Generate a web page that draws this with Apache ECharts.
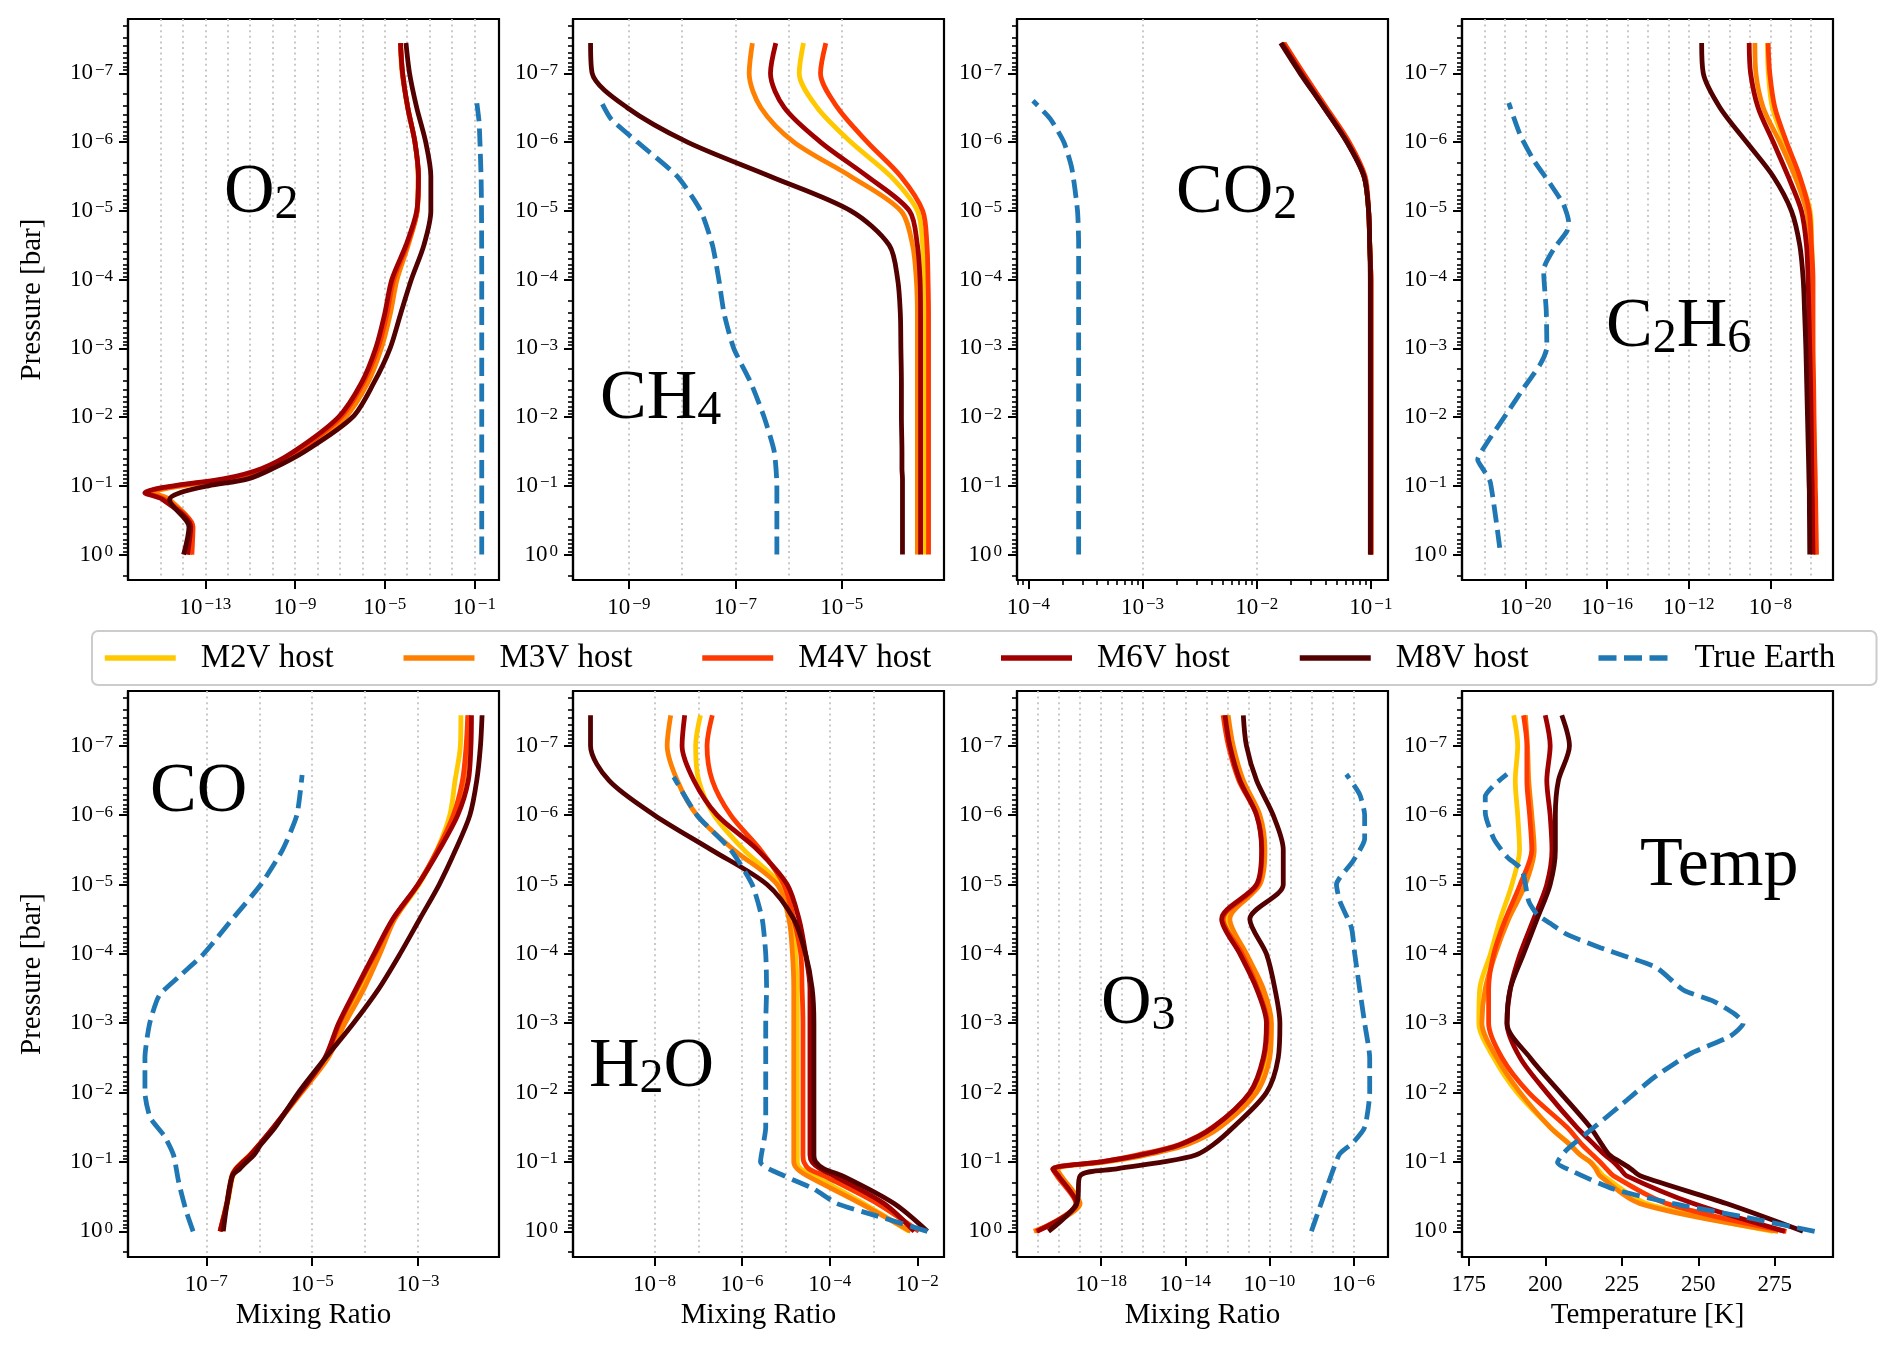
<!DOCTYPE html>
<html>
<head>
<meta charset="utf-8">
<script src="https://cdn.jsdelivr.net/npm/echarts@6/dist/echarts.min.js"></script>
<style>
  html, body { margin: 0; padding: 0; background: #fff; }
  #chart { width: 1894px; height: 1349px; }
</style>
</head>
<body>
<div id="chart"></div>
<script>
// ---- data (mixing ratios stored as log10 values, pressure as log10 bar) ----
const hostNames = ['M2V host', 'M3V host', 'M4V host', 'M6V host', 'M8V host'];
const earthName = 'True Earth';

// pressure levels of the host profiles, from 1 bar up to the top
const logP = [0, -0.4, -0.8, -0.9, -1, -1.1, -1.25, -1.5, -2, -2.5, -3, -3.5, -4, -4.5, -5, -5.5, -6, -6.5, -7, -7.44];

// O2, rows: M2V, M3V, M4V, M6V, M8V
const o2Hosts = [
  [-13.7, -13.6, -14.7, -15.4, -14.1, -11.9, -10.2, -8.8, -6.85, -5.85, -5.25, -4.85, -4.55, -4.0, -3.55, -3.5, -3.65, -3.97, -4.2, -4.3],
  [-13.7, -13.6, -14.6, -15.3, -14.0, -11.8, -10.1, -8.7, -6.75, -5.75, -5.15, -4.75, -4.45, -3.95, -3.55, -3.5, -3.65, -3.97, -4.22, -4.3],
  [-13.6, -13.55, -14.8, -15.6, -14.3, -12.0, -10.3, -8.9, -6.95, -5.95, -5.3, -4.9, -4.6, -4.0, -3.55, -3.5, -3.65, -3.97, -4.2, -4.3],
  [-13.8, -13.65, -14.9, -15.7, -14.4, -12.2, -10.5, -9.05, -7.06, -6.03, -5.4, -5.0, -4.68, -4.05, -3.57, -3.49, -3.65, -3.97, -4.2, -4.29],
  [-13.97, -13.73, -14.6, -14.13, -12.86, -11.1, -10.0, -8.57, -6.43, -5.48, -4.76, -4.29, -3.81, -3.25, -2.94, -2.94, -3.17, -3.57, -3.89, -4.05]
];
const o2EarthP = [0, -1, -2, -3, -4, -5, -5.5, -6, -6.3, -6.6];
const o2Earth = [-0.67, -0.67, -0.67, -0.67, -0.67, -0.68, -0.70, -0.75, -0.79, -0.90];

// CH4
const ch4Hosts = [
  [-3.44, -3.44, -3.44, -3.44, -3.44, -3.44, -3.44, -3.44, -3.44, -3.44, -3.44, -3.44, -3.45, -3.48, -3.58, -4.08, -4.83, -5.46, -5.8, -5.72],
  [-3.58, -3.58, -3.58, -3.58, -3.58, -3.58, -3.58, -3.58, -3.58, -3.58, -3.58, -3.58, -3.6, -3.67, -3.89, -4.83, -5.9, -6.52, -6.74, -6.68],
  [-3.37, -3.37, -3.37, -3.37, -3.37, -3.37, -3.37, -3.37, -3.37, -3.37, -3.37, -3.37, -3.38, -3.4, -3.48, -3.89, -4.52, -5.08, -5.4, -5.3],
  [-3.52, -3.52, -3.52, -3.52, -3.52, -3.52, -3.52, -3.52, -3.52, -3.52, -3.52, -3.52, -3.53, -3.58, -3.73, -4.52, -5.4, -6.08, -6.34, -6.24],
  [-3.86, -3.86, -3.86, -3.86, -3.86, -3.86, -3.87, -3.87, -3.88, -3.88, -3.89, -3.9, -3.95, -4.11, -4.83, -6.34, -7.9, -9.03, -9.69, -9.72]
];
const ch4EarthP = [0, -1, -1.5, -2, -2.5, -3, -3.5, -4, -4.5, -5, -5.5, -6, -6.34, -6.6];
const ch4Earth = [-6.22, -6.22, -6.27, -6.46, -6.71, -7.03, -7.21, -7.31, -7.43, -7.65, -8.09, -8.84, -9.34, -9.53];

// CO2
const co2Hosts = [
  [-1.0, -1.0, -1.0, -1.0, -1.0, -1.0, -1.0, -1.0, -1.0, -1.0, -1.0, -1.0, -1.0, -1.01, -1.02, -1.06, -1.2, -1.4, -1.6, -1.77],
  [-1.0, -1.0, -1.0, -1.0, -1.0, -1.0, -1.0, -1.0, -1.0, -1.0, -1.0, -1.0, -1.0, -1.01, -1.02, -1.06, -1.2, -1.4, -1.6, -1.77],
  [-1.0, -1.0, -1.0, -1.0, -1.0, -1.0, -1.0, -1.0, -1.0, -1.0, -1.0, -1.0, -1.0, -1.01, -1.02, -1.05, -1.19, -1.39, -1.59, -1.76],
  [-1.0, -1.0, -1.0, -1.0, -1.0, -1.0, -1.0, -1.0, -1.0, -1.0, -1.0, -1.0, -1.0, -1.01, -1.02, -1.06, -1.21, -1.41, -1.61, -1.78],
  [-1.005, -1.005, -1.005, -1.005, -1.005, -1.005, -1.005, -1.005, -1.005, -1.005, -1.005, -1.005, -1.005, -1.01, -1.02, -1.06, -1.21, -1.41, -1.62, -1.79]
];
const co2EarthP = [0, -1, -2, -3, -4, -4.5, -5, -5.62, -6, -6.34, -6.6];
const co2Earth = [-3.56, -3.56, -3.56, -3.56, -3.56, -3.56, -3.57, -3.62, -3.69, -3.81, -3.96];

// C2H6
const c2h6Hosts = [
  [-5.76, -5.78, -5.8, -5.81, -5.82, -5.82, -5.83, -5.85, -5.88, -5.9, -5.92, -5.93, -5.93, -5.97, -6.05, -6.6, -7.3, -7.9, -8.1, -8.15],
  [-5.82, -5.84, -5.86, -5.87, -5.88, -5.88, -5.89, -5.91, -5.93, -5.96, -5.99, -5.99, -5.99, -6.07, -6.23, -6.8, -7.54, -8.35, -8.71, -8.76],
  [-5.74, -5.76, -5.78, -5.79, -5.8, -5.8, -5.81, -5.83, -5.86, -5.88, -5.91, -5.91, -5.91, -5.99, -6.1, -6.56, -7.21, -7.78, -8.03, -8.11],
  [-5.91, -5.93, -5.94, -5.95, -5.95, -5.96, -5.97, -5.98, -6.0, -6.03, -6.07, -6.11, -6.15, -6.23, -6.48, -7.13, -7.86, -8.6, -8.97, -9.04],
  [-6.07, -6.08, -6.09, -6.09, -6.1, -6.11, -6.12, -6.14, -6.18, -6.22, -6.26, -6.32, -6.39, -6.56, -6.97, -7.86, -9.17, -10.47, -11.29, -11.37]
];
const c2h6EarthP = [-0.1, -1.05, -1.23, -1.38, -1.59, -2.06, -2.42, -2.77, -3.01, -3.55, -3.96, -4.14, -4.44, -4.7, -4.85, -5.09, -5.39, -5.74, -6.1, -6.57];
const c2h6Earth = [-21.27, -21.73, -22.06, -22.35, -21.97, -20.91, -20.1, -19.28, -18.96, -18.99, -19.09, -19.12, -18.63, -17.98, -17.9, -18.14, -18.79, -19.61, -20.26, -20.83];

// CO
const coHosts = [
  [-6.72, -6.6, -6.5, -6.43, -6.3, -6.16, -5.99, -5.72, -5.22, -4.73, -4.45, -4.1, -3.78, -3.45, -2.98, -2.64, -2.4, -2.3, -2.2, -2.19],
  [-6.74, -6.62, -6.52, -6.45, -6.32, -6.18, -6.0, -5.72, -5.2, -4.7, -4.38, -4.02, -3.72, -3.44, -3.0, -2.63, -2.33, -2.14, -2.08, -2.05],
  [-6.74, -6.61, -6.51, -6.44, -6.31, -6.17, -6.0, -5.73, -5.23, -4.75, -4.48, -4.15, -3.81, -3.47, -3.0, -2.63, -2.33, -2.16, -2.09, -2.06],
  [-6.74, -6.61, -6.51, -6.44, -6.31, -6.17, -6.0, -5.73, -5.23, -4.76, -4.5, -4.17, -3.83, -3.48, -3.0, -2.6, -2.25, -2.05, -2.0, -1.99],
  [-6.68, -6.61, -6.51, -6.37, -6.24, -6.1, -5.97, -5.7, -5.26, -4.75, -4.22, -3.74, -3.34, -2.97, -2.6, -2.29, -2.02, -1.89, -1.82, -1.79]
];
const coEarthP = [0, -0.29, -0.7, -1.1, -1.37, -1.64, -2, -2.5, -3, -3.4, -3.67, -4, -4.5, -5, -5.5, -6, -6.58];
const coEarth = [-7.25, -7.38, -7.52, -7.62, -7.79, -8.06, -8.16, -8.16, -8.07, -7.89, -7.52, -7.05, -6.51, -5.97, -5.56, -5.29, -5.19];

// H2O
const h2oHosts = [
  [-2.19, -3.22, -4.36, -4.66, -4.74, -4.74, -4.74, -4.74, -4.74, -4.74, -4.74, -4.74, -4.78, -4.82, -5.12, -5.96, -6.64, -6.99, -7.06, -6.95],
  [-2.15, -3.29, -4.51, -4.74, -4.82, -4.82, -4.82, -4.82, -4.82, -4.82, -4.82, -4.82, -4.85, -4.93, -5.2, -6.19, -7.03, -7.48, -7.71, -7.63],
  [-1.96, -2.91, -4.13, -4.47, -4.59, -4.61, -4.61, -4.61, -4.61, -4.61, -4.61, -4.63, -4.66, -4.82, -5.05, -5.58, -6.26, -6.68, -6.8, -6.68],
  [-2.07, -2.76, -3.9, -4.21, -4.4, -4.45, -4.45, -4.45, -4.45, -4.45, -4.45, -4.45, -4.55, -4.7, -4.97, -5.65, -6.57, -7.1, -7.37, -7.31],
  [-1.77, -2.53, -3.71, -4.13, -4.32, -4.36, -4.36, -4.36, -4.36, -4.36, -4.36, -4.4, -4.55, -4.82, -5.43, -6.7, -8.0, -9.04, -9.46, -9.46]
];
const h2oEarthP = [0, -0.22, -0.4, -0.61, -0.8, -1, -1.5, -2, -2.5, -3, -3.5, -4, -4.5, -5, -5.5, -6, -6.55];
const h2oEarth = [-1.77, -2.91, -3.83, -4.36, -5.04, -5.58, -5.46, -5.46, -5.46, -5.46, -5.44, -5.46, -5.54, -5.77, -6.26, -7.03, -7.56];

// O3
const o3Hosts = [
  [-21.1, -19.1, -20.0, -20.2, -17.9, -16.0, -14.1, -12.5, -10.75, -10.1, -10.0, -10.45, -11.25, -12.1, -10.5, -10.3, -10.55, -11.35, -11.85, -12.05],
  [-21.2, -19.0, -19.9, -20.1, -17.8, -15.9, -13.93, -12.35, -10.61, -9.98, -9.9, -10.29, -11.09, -11.88, -10.45, -10.21, -10.45, -11.24, -11.72, -11.96],
  [-21.1, -19.2, -20.1, -20.3, -18.0, -16.3, -14.3, -12.7, -10.9, -10.25, -10.1, -10.55, -11.3, -12.2, -10.55, -10.35, -10.6, -11.45, -11.95, -12.2],
  [-21.05, -19.16, -20.03, -20.3, -18.05, -16.15, -14.25, -12.67, -10.93, -10.29, -10.14, -10.61, -11.4, -12.27, -10.61, -10.37, -10.61, -11.4, -11.88, -12.11],
  [-20.5, -19.16, -19.0, -17.26, -15.04, -13.5, -12.67, -11.72, -10.14, -9.58, -9.5, -9.74, -10.14, -10.93, -9.34, -9.34, -9.82, -10.61, -11.09, -11.24]
];
const o3EarthP = [0, -0.35, -0.86, -1.12, -1.28, -1.5, -2, -2.5, -3, -3.5, -4, -4.38, -4.76, -5, -5.34, -5.66, -6, -6.3, -6.59];
const o3Earth = [-8.0, -7.6, -7.0, -6.65, -6.02, -5.47, -5.23, -5.23, -5.47, -5.71, -5.94, -6.1, -6.65, -6.81, -6.02, -5.47, -5.47, -5.71, -6.34];

// Temperature [K]
const tempHosts = [
  [274.5, 233.2, 219.0, 217.0, 214.7, 211.5, 208.2, 201.6, 190.8, 183.2, 178.3, 178.6, 182.1, 185.3, 189.1, 191.6, 191.0, 190.2, 191.0, 189.7],
  [276.1, 231.0, 217.9, 216.5, 214.7, 211.5, 208.0, 201.6, 191.8, 184.2, 179.3, 180.4, 183.7, 188.0, 193.5, 196.4, 195.6, 194.6, 194.2, 193.5],
  [278.8, 239.7, 222.3, 220.0, 217.9, 215.5, 212.0, 207.1, 194.6, 185.9, 181.5, 181.5, 183.2, 187.0, 191.8, 195.6, 194.9, 194.0, 194.0, 192.9],
  [278.3, 248.4, 226.6, 224.5, 222.3, 219.5, 216.0, 210.3, 200.5, 191.8, 187.5, 188.6, 191.8, 196.2, 200.5, 202.2, 201.6, 200.5, 201.6, 200.0],
  [284.2, 259.2, 231.0, 228.0, 224.5, 221.0, 218.5, 214.7, 204.9, 195.1, 187.5, 188.6, 192.9, 197.3, 201.6, 203.3, 203.3, 204.3, 207.9, 205.4]
];
const tempEarthP = [0, -0.22, -0.4, -0.61, -0.86, -0.99, -1.18, -1.53, -1.89, -2.21, -2.56, -2.81, -3.0, -3.13, -3.32, -3.48, -3.8, -3.96, -4.09, -4.28, -4.44, -4.57, -4.76, -5.21, -5.4, -5.66, -6.04, -6.27, -6.43, -6.59];
const tempEarth = [288.0, 263.6, 241.8, 222.3, 209.2, 204.0, 207.1, 216.8, 226.6, 235.3, 247.3, 260.3, 264.7, 262.0, 254.9, 245.1, 236.4, 226.6, 218.0, 207.1, 201.6, 197.3, 194.6, 192.4, 187.5, 183.2, 180.4, 180.4, 183.2, 187.5];

// x tick labels (log10 of mixing ratio / kelvin)
const o2Ticks = [-13, -9, -5, -1];
const ch4Ticks = [-9, -7, -5];
const co2Ticks = [-4, -3, -2, -1];
const c2h6Ticks = [-20, -16, -12, -8];
const coTicks = [-7, -5, -3];
const h2oTicks = [-8, -6, -4, -2];
const o3Ticks = [-18, -14, -10, -6];
const tempTicks = [175, 200, 225, 250, 275];
const pressureTicks = [-7, -6, -5, -4, -3, -2, -1, 0];

// ---- styling / layout ----
const FONT = 'Liberation Serif';
const hostColors = ['#ffc800', '#ff8000', '#ff3a00', '#a00000', '#520000'];
const earthColor = '#1f77b4';
const colLeft = [128, 573, 1017, 1462];
const rowTop = [19, 691];
const rowH = [561, 566];
const panelW = 371;
const yMinLog = -7.79, yMaxLog = 0.37;
const LW = 4.8;

const panels = [
  { hosts: o2Hosts, eP: o2EarthP, e: o2Earth, xr: [-16.45, 0.1], ticks: o2Ticks, yName: true },
  { hosts: ch4Hosts, eP: ch4EarthP, e: ch4Earth, xr: [-10.05, -3.08], ticks: ch4Ticks },
  { hosts: co2Hosts, eP: co2EarthP, e: co2Earth, xr: [-4.1, -0.85], ticks: co2Ticks, minor: true },
  { hosts: c2h6Hosts, eP: c2h6EarthP, e: c2h6Earth, xr: [-23.12, -4.93], ticks: c2h6Ticks },
  { hosts: coHosts, eP: coEarthP, e: coEarth, xr: [-8.48, -1.47], ticks: coTicks, yName: true, xName: 'Mixing Ratio' },
  { hosts: h2oHosts, eP: h2oEarthP, e: h2oEarth, xr: [-9.86, -1.39], ticks: h2oTicks, xName: 'Mixing Ratio' },
  { hosts: o3Hosts, eP: o3EarthP, e: o3Earth, xr: [-22.0, -4.36], ticks: o3Ticks, xName: 'Mixing Ratio' },
  { hosts: tempHosts, eP: tempEarthP, e: tempEarth, xr: [172.8, 294.0], ticks: tempTicks, linear: true, xName: 'Temperature [K]' }
];

const speciesLabels = [
  { text: '{m|O}{s|2}', x: 224, y: 194 },
  { text: '{m|CH}{s|4}', x: 600, y: 400 },
  { text: '{m|CO}{s|2}', x: 1176, y: 194 },
  { text: '{m|C}{s|2}{m|H}{s|6}', x: 1606, y: 328 },
  { text: '{m|CO}', x: 150, y: 793 },
  { text: '{m|H}{s|2}{m|O}', x: 589, y: 1068 },
  { text: '{m|O}{s|3}', x: 1101, y: 1005 },
  { text: '{m|Temp}', x: 1640, y: 867 }
];

const pow10 = v => Math.pow(10, v);
function powLabel(v) {
  const k = Math.round(Math.log10(v));
  return '{b|10}{e|' + (k < 0 ? '\u2212' + (-k) : String(k)) + '}';
}
const tickRich = {
  b: { fontFamily: FONT, fontSize: 23, lineHeight: 23, verticalAlign: 'bottom', color: '#000' },
  e: { fontFamily: FONT, fontSize: 17, lineHeight: 11, verticalAlign: 'top', color: '#000', padding: [0, 0, 0, 2] }
};
function decades(lo, hi) {
  const out = [];
  for (let k = Math.ceil(lo); k <= Math.floor(hi); k++) out.push(pow10(k));
  return out;
}
function minors(lo, hi) {
  const out = [];
  for (let k = Math.floor(lo); k <= Math.ceil(hi); k++) {
    for (let m = 2; m <= 9; m++) {
      const v = m * pow10(k);
      if (Math.log10(v) > lo && Math.log10(v) < hi) out.push(v);
    }
  }
  return out;
}

const option = {
  animation: false,
  backgroundColor: '#ffffff',
  grid: [], xAxis: [], yAxis: [], series: [], graphic: []
};

panels.forEach((pn, i) => {
  const row = Math.floor(i / 4), col = i % 4;
  option.grid.push({
    left: colLeft[col], top: rowTop[row], width: panelW, height: rowH[row],
    show: true, borderColor: '#000', borderWidth: 2.2, backgroundColor: 'transparent'
  });
  const xType = pn.linear ? 'value' : 'log';
  const xMin = pn.linear ? pn.xr[0] : pow10(pn.xr[0]);
  const xMax = pn.linear ? pn.xr[1] : pow10(pn.xr[1]);
  const xTickVals = pn.linear ? pn.ticks : pn.ticks.map(pow10);
  const base = { gridIndex: i, type: xType, min: xMin, max: xMax, position: 'bottom' };
  if (!pn.linear) base.logBase = 10;

  // x axis carrying the data and the dotted decade grid
  const xData = option.xAxis.length;
  option.xAxis.push(Object.assign({}, base, {
    axisLine: { show: false },
    axisTick: { show: false, customValues: pn.linear ? pn.ticks : decades(pn.xr[0], pn.xr[1]) },
    axisLabel: { show: false },
    splitLine: { show: !pn.linear, showMinLine: false, showMaxLine: false,
      lineStyle: { color: '#c4c4c4', width: 1.8, type: [2, 3.6] } }
  }));
  // x axis with labelled ticks
  option.xAxis.push(Object.assign({}, base, {
    axisLine: { show: true, onZero: false, lineStyle: { color: '#000', width: 2.2 } },
    axisTick: { show: true, customValues: xTickVals, length: 9, lineStyle: { color: '#000', width: 2 } },
    axisLabel: {
      customValues: xTickVals, margin: 16, color: '#000', rich: tickRich,
      formatter: pn.linear ? (v => '{b|' + v + '}') : powLabel
    },
    splitLine: { show: false },
    name: pn.xName || '', nameLocation: 'middle', nameGap: 44,
    nameTextStyle: { fontFamily: FONT, fontSize: 29, color: '#000' }
  }));
  if (pn.minor) {
    option.xAxis.push(Object.assign({}, base, {
      axisLine: { show: false },
      axisTick: { show: true, customValues: minors(pn.xr[0], pn.xr[1]), length: 5, lineStyle: { color: '#000', width: 1.6 } },
      axisLabel: { show: false }, splitLine: { show: false }
    }));
  }

  const yBase = { gridIndex: i, type: 'log', logBase: 10, inverse: true,
    min: pow10(yMinLog), max: pow10(yMaxLog), position: 'left' };
  const yData = option.yAxis.length;
  option.yAxis.push(Object.assign({}, yBase, {
    axisLine: { show: true, onZero: false, lineStyle: { color: '#000', width: 2.2 } },
    axisTick: { show: true, customValues: pressureTicks.map(pow10), length: 9, lineStyle: { color: '#000', width: 2 } },
    axisLabel: { customValues: pressureTicks.map(pow10), margin: 15, color: '#000', rich: tickRich, formatter: powLabel },
    splitLine: { show: false },
    name: pn.yName ? 'Pressure [bar]' : '', nameLocation: 'middle', nameGap: 81,
    nameTextStyle: { fontFamily: FONT, fontSize: 29, color: '#000' }
  }));
  option.yAxis.push(Object.assign({}, yBase, {
    axisLine: { show: false },
    axisTick: { show: true, customValues: minors(yMinLog, yMaxLog), length: 5, lineStyle: { color: '#000', width: 1.6 } },
    axisLabel: { show: false }, splitLine: { show: false }
  }));

  const xv = v => (pn.linear ? v : pow10(v));
  pn.hosts.forEach((vals, h) => {
    option.series.push({
      type: 'line', name: hostNames[h], xAxisIndex: xData, yAxisIndex: yData,
      data: logP.map((p, k) => [xv(vals[k]), pow10(p)]),
      symbol: 'none', showSymbol: false, smooth: 0.3, silent: true,
      color: hostColors[h], itemStyle: { color: hostColors[h] },
      lineStyle: { color: hostColors[h], width: LW, cap: 'butt', join: 'round' }, z: 2 + h
    });
  });
  option.series.push({
    type: 'line', name: earthName, xAxisIndex: xData, yAxisIndex: yData,
    data: pn.eP.map((p, k) => [xv(pn.e[k]), pow10(p)]),
    symbol: 'none', showSymbol: false, smooth: 0.2, silent: true,
    color: earthColor, itemStyle: { color: earthColor },
    lineStyle: { color: earthColor, width: LW, type: [18, 7.5], cap: 'butt' }, z: 8
  });
});

speciesLabels.forEach(l => {
  option.graphic.push({
    type: 'text', x: l.x, y: l.y - 35, z: 100, silent: true,
    style: {
      text: l.text, fill: '#000', align: 'left', verticalAlign: 'top',
      rich: {
        m: { fontFamily: FONT, fontSize: 70, lineHeight: 70, verticalAlign: 'bottom', fill: '#000' },
        s: { fontFamily: FONT, fontSize: 48, lineHeight: 20, verticalAlign: 'bottom', fill: '#000' }
      }
    }
  });
});

option.legend = {
  left: 92, top: 631, orient: 'horizontal',
  padding: [10, 14, 10, 10], itemGap: 0, itemWidth: 71, itemHeight: 3,
  backgroundColor: '#fff', borderColor: '#cccccc', borderWidth: 2, borderRadius: 6,
  itemStyle: { opacity: 0 },
  lineStyle: { width: 5.5 },
  textStyle: { fontFamily: FONT, fontSize: 33, color: '#000', width: 200, overflow: 'none', lineHeight: 34, padding: [0, 0, 0, 20] },
  data: hostNames.map(n => ({ name: n })).concat([{ name: earthName, textStyle: { width: 168 } }])
};

const chart = echarts.init(document.getElementById('chart'), null, { renderer: 'canvas' });
chart.setOption(option);
</script>
</body>
</html>
